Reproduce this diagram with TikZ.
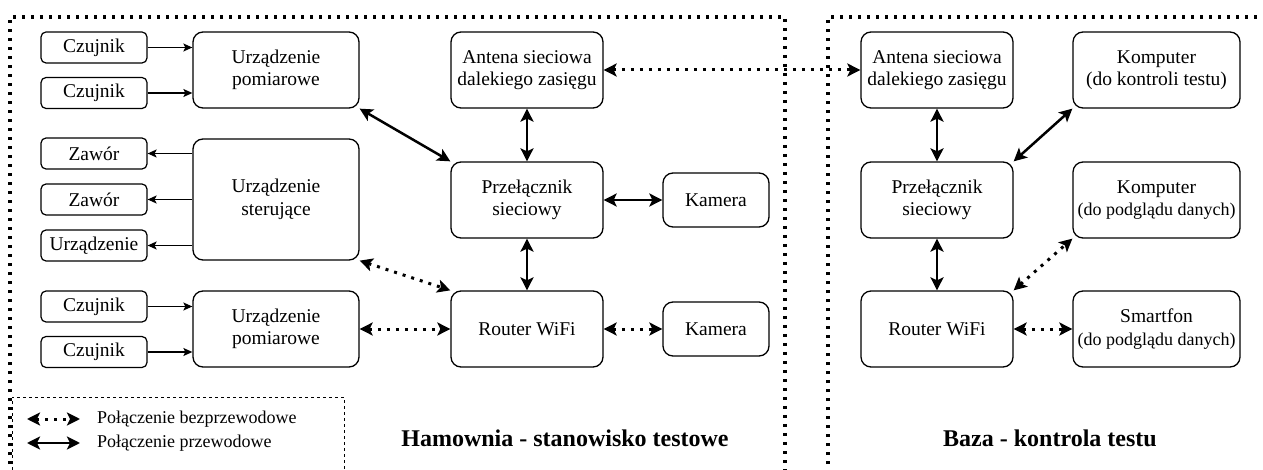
\documentclass[tikz,border=0pt]{standalone}
\usepackage{fontspec}
\setmainfont{Liberation Serif}
\usetikzlibrary{arrows.meta}
\newcommand{\subfont}{\fontsize{18}{21}\selectfont}
\begin{document}
\begin{tikzpicture}[x=1pt,y=-1pt,
  box/.style={draw, line width=1.3pt, rounded corners=10pt, align=center,
    font=\fontsize{19.5}{22.5}\selectfont, inner sep=0pt, minimum width=#1},
  box/.default=152pt,
  sbox/.style={draw, line width=1.2pt, rounded corners=5pt, align=center,
    font=\fontsize{19.5}{22.5}\selectfont, inner sep=0pt, minimum width=106pt, minimum height=31pt},
  thinarr/.style={line width=1.2pt, -{Stealth[length=9pt,width=8pt,inset=2pt]}},
  wired/.style={line width=2.5pt, {Stealth[length=13pt,width=13pt,inset=3pt]}-{Stealth[length=13pt,width=13pt,inset=3pt]}},
  wless/.style={line width=3pt, dash pattern=on 3pt off 6pt,
    {Stealth[length=13pt,width=13pt,inset=3pt]}-{Stealth[length=13pt,width=13pt,inset=3pt]}},
  frame/.style={line width=3.1pt, dash pattern=on 3.1pt off 5.9pt},
  legendtext/.style={anchor=west, inner sep=0pt, font=\fontsize{18}{21}\selectfont},
  title/.style={inner sep=0pt, font=\bfseries\fontsize{24}{27}\selectfont}
]
\useasboundingbox (0,0) rectangle (1263,470);
\clip (0,0) rectangle (1263,470);

% frames
\draw[frame] (10,500) -- (10,17) -- (785,17) -- (785,500);
\draw[frame] (828,500) -- (828,17) -- (1280,17);

% left column small boxes
\node[sbox] (cz1) at (94,47.5) {Czujnik};
\node[sbox] (cz2) at (94,93) {Czujnik};
\node[sbox] (za1) at (94,153.5) {Zawór};
\node[sbox] (za2) at (94,199.5) {Zawór};
\node[sbox] (ur) at (94,245.5) {Urządzenie};
\node[sbox] (cz3) at (94,306.5) {Czujnik};
\node[sbox] (cz4) at (94,352) {Czujnik};

% device boxes
\node[box=166pt, minimum height=76pt] (up1) at (276,70) {Urządzenie\\pomiarowe};
\node[box=166pt, minimum height=121pt] (us) at (276,199.5) {Urządzenie\\sterujące};
\node[box=166pt, minimum height=76pt] (up2) at (276,329) {Urządzenie\\pomiarowe};

% network, test stand
\node[box, minimum height=76pt] (an1) at (527,70) {Antena sieciowa\\dalekiego zasięgu};
\node[box, minimum height=76pt] (pr1) at (527,200) {Przełącznik\\sieciowy};
\node[box, minimum height=76pt] (ro1) at (527,329) {Router WiFi};
\node[box=106pt, minimum height=54pt] (ka1) at (716,200) {Kamera};
\node[box=106pt, minimum height=54pt] (ka2) at (716,329) {Kamera};

% base
\node[box, minimum height=76pt] (an2) at (937,70) {Antena sieciowa\\dalekiego zasięgu};
\node[box, minimum height=76pt] (pr2) at (937,200) {Przełącznik\\sieciowy};
\node[box, minimum height=76pt] (ro2) at (937,329) {Router WiFi};
\node[box=167pt, minimum height=76pt] (ko1) at (1156.5,70) {Komputer\\(do kontroli testu)};
\node[box=167pt, minimum height=76pt] (ko2) at (1156.5,200) {Komputer\\{\subfont (do podglądu danych)}};
\node[box=167pt, minimum height=76pt] (sm) at (1156.5,329) {Smartfon\\{\subfont (do podglądu danych)}};

% sensors / actuators
\draw[thinarr] (cz1.east) -- (cz1.east -| up1.west);
\draw[thinarr] (cz2.east) -- (cz2.east -| up1.west);
\draw[thinarr] (za1.east -| us.west) -- (za1.east);
\draw[thinarr] (za2.east -| us.west) -- (za2.east);
\draw[thinarr] (ur.east -| us.west) -- (ur.east);
\draw[thinarr] (cz3.east) -- (cz3.east -| up2.west);
\draw[thinarr] (cz4.east) -- (cz4.east -| up2.west);

% test stand network
\draw[wired] (up1.south east) -- (pr1.north west);
\draw[wless] (us.south east) -- (ro1.north west);
\draw[wless] (up2.east) -- (ro1.west);
\draw[wired] (an1.south) -- (pr1.north);
\draw[wired] (pr1.east) -- (ka1.west);
\draw[wired] (pr1.south) -- (ro1.north);
\draw[wless] (ro1.east) -- (ka2.west);

% long range
\draw[wless] (an1.east) -- (an2.west);

% base network
\draw[wired] (an2.south) -- (pr2.north);
\draw[wired] (pr2.north east) -- (ko1.south west);
\draw[wired] (pr2.south) -- (ro2.north);
\draw[wless] (ro2.north east) -- (ko2.south west);
\draw[wless] (ro2.east) -- (sm.west);

% titles
\node[title] (t1) at (565,438) {Hamownia - stanowisko testowe};
\node[title] (t2) at (1050,438) {Baza - kontrola testu};

% legend
\draw[line width=1pt, dash pattern=on 3pt off 3pt] (12,500) -- (12,397) -- (344,397) -- (344,500);
\coordinate (l1a) at (27,419);
\coordinate (l1b) at (80,419);
\coordinate (l2a) at (27,443);
\coordinate (l2b) at (80,443);
\draw[wless] (l1a) -- (l1b);
\draw[wired] (l2a) -- (l2b);
\node[legendtext] (lt1) at (97,419) {Połączenie bezprzewodowe};
\node[legendtext] (lt2) at (97,443) {Połączenie przewodowe};
\end{tikzpicture}
\end{document}
